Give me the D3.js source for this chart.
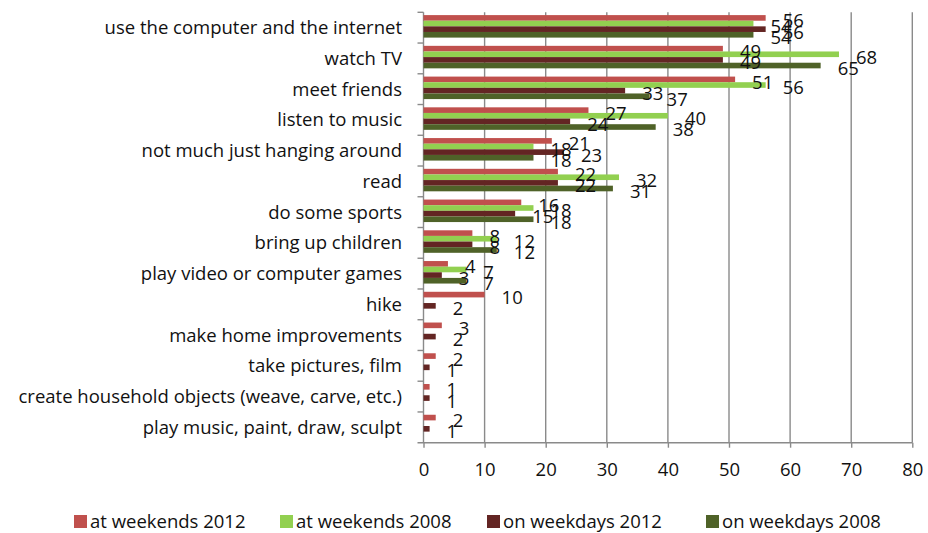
<!DOCTYPE html>
<html>
<head>
<meta charset="utf-8">
<script src="https://cdn.jsdelivr.net/npm/d3@7/dist/d3.min.js"></script>
<style>
  html, body { margin: 0; padding: 0; background: #fff; }
  svg { display: block; font-family: "Open Sans", Lato, sans-serif; }
</style>
</head>
<body>
<svg id="chart" width="928" height="533"></svg>
<script>
// Leisure activities, share of respondents (%)
const categories = [
  "use the computer and the internet",
  "watch TV",
  "meet friends",
  "listen to music",
  "not much just hanging around",
  "read",
  "do some sports",
  "bring up children",
  "play video or computer games",
  "hike",
  "make home improvements",
  "take pictures, film",
  "create household objects (weave, carve, etc.)",
  "play music, paint, draw, sculpt"
];
const seriesNames = ["at weekends 2012", "at weekends 2008", "on weekdays 2012", "on weekdays 2008"];
const weekends2012 = [56, 49, 51, 27, 21, 22, 16, 8, 4, 10, 3, 2, 1, 2];
const weekends2008 = [54, 68, 56, 40, 18, 32, 18, 12, 7, null, null, null, null, null];
const weekdays2012 = [56, 49, 33, 24, 23, 22, 15, 8, 3, 2, 2, 1, 1, 1];
const weekdays2008 = [54, 65, 37, 38, 18, 31, 18, 12, 7, null, null, null, null, null];
const xTicks = [0, 10, 20, 30, 40, 50, 60, 70, 80];
const colors = ["#C0504D", "#92D050", "#632523", "#4F6228"];

const seriesValues = [weekends2012, weekends2008, weekdays2012, weekdays2008];

const svg = d3.select("#chart");
const fontSize = 18.5;
const textColor = "#111";

const plot = { left: 423.5, right: 912.3, top: 12.3, bottom: 442.7 };

const x = d3.scaleLinear().domain([0, 80]).range([plot.left, plot.right]);
const y = d3.scaleBand().domain(categories).range([plot.top, plot.bottom]);
const ySub = d3.scaleBand().domain(seriesNames).range([2.8, 25.3]);

const gridColor = "#8a8a8a";

// vertical gridlines
svg.append("g")
  .selectAll("line")
  .data(xTicks.slice(1))
  .join("line")
  .attr("x1", d => x(d)).attr("x2", d => x(d))
  .attr("y1", plot.top).attr("y2", plot.bottom)
  .attr("stroke", gridColor).attr("stroke-width", 1.4);

// bottom axis
const xAxis = d3.axisBottom(x).tickValues(xTicks).tickSize(5).tickPadding(15);
const gx = svg.append("g")
  .attr("transform", `translate(0,${plot.bottom})`)
  .call(xAxis);
gx.select(".domain").remove();
gx.selectAll(".tick line").attr("stroke", gridColor).attr("stroke-width", 1.4);
gx.selectAll(".tick text")
  .attr("font-size", fontSize).attr("fill", textColor)
  .attr("font-family", "'Open Sans', sans-serif");
svg.append("line")
  .attr("x1", plot.left - 6).attr("x2", plot.right)
  .attr("y1", plot.bottom).attr("y2", plot.bottom)
  .attr("stroke", gridColor).attr("stroke-width", 1.4);

// left axis: line, boundary ticks, category labels
svg.append("line")
  .attr("x1", plot.left).attr("x2", plot.left)
  .attr("y1", plot.top).attr("y2", plot.bottom)
  .attr("stroke", gridColor).attr("stroke-width", 1.4);
const boundaries = categories.map(c => y(c));
svg.append("g")
  .selectAll("line")
  .data(boundaries)
  .join("line")
  .attr("x1", plot.left - 6).attr("x2", plot.left)
  .attr("y1", d => d).attr("y2", d => d)
  .attr("stroke", gridColor).attr("stroke-width", 1.4);

svg.append("g")
  .selectAll("text")
  .data(categories)
  .join("text")
  .attr("x", 402)
  .attr("y", d => y(d) + y.bandwidth() / 2)
  .attr("dy", "0.35em")
  .attr("text-anchor", "end")
  .attr("font-size", fontSize)
  .attr("fill", textColor)
  .text(d => d);

// bars and value labels
const barData = [];
seriesValues.forEach((vals, si) => {
  vals.forEach((v, ci) => {
    if (v !== null) barData.push({ s: seriesNames[si], si, c: categories[ci], v });
  });
});

svg.append("g")
  .selectAll("rect")
  .data(barData)
  .join("rect")
  .attr("x", x(0))
  .attr("y", d => y(d.c) + ySub(d.s))
  .attr("width", d => x(d.v) - x(0))
  .attr("height", ySub.bandwidth())
  .attr("fill", d => colors[d.si]);

svg.append("g")
  .selectAll("text")
  .data(barData)
  .join("text")
  .attr("x", d => x(d.v) + 17)
  .attr("y", d => y(d.c) + ySub(d.s) + ySub.bandwidth() / 2 + 3)
  .attr("dy", "0.35em")
  .attr("font-size", fontSize)
  .attr("fill", textColor)
  .text(d => d.v);

// legend
const legendX = [74, 280, 487, 706];
const legend = svg.append("g")
  .selectAll("g")
  .data(seriesNames)
  .join("g")
  .attr("transform", (d, i) => `translate(${legendX[i]},515)`);
legend.append("rect")
  .attr("width", 13).attr("height", 13)
  .attr("fill", (d, i) => colors[i]);
legend.append("text")
  .attr("x", 16).attr("y", 6.5)
  .attr("dy", "0.35em")
  .attr("font-size", fontSize)
  .attr("fill", textColor)
  .text(d => d);
</script>
</body>
</html>
